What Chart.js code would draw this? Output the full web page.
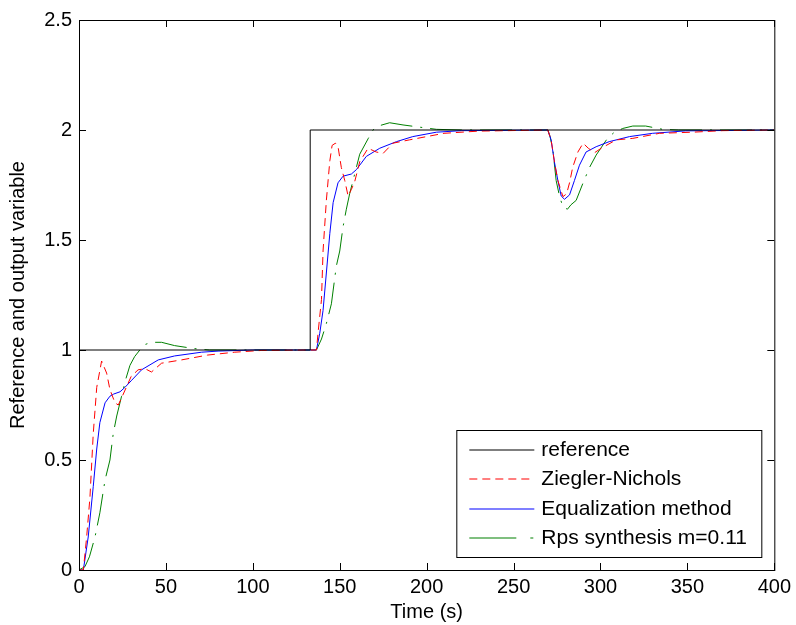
<!DOCTYPE html>
<html>
<head>
<meta charset="utf-8">
<script src="https://cdn.jsdelivr.net/npm/chart.js@4/dist/chart.umd.min.js"></script>
<style>
  body { margin: 0; background: #fff; }
  canvas { display: block; }
</style>
</head>
<body>
<canvas id="resp-canvas" width="796" height="625"></canvas>
<script>
// time (s) and output values
const refTime = [0, 0, 133, 133, 400];
const refVal  = [0, 1, 1, 2, 2];

const znTime = [0, 2.5, 4.4, 6.3, 8.2, 10.2, 13, 15.9, 17.8, 20.7, 22.6, 25.5, 30, 34, 38, 41.7, 47.5, 59, 74, 89.6, 105, 133,
  136.6, 137.5, 139.5, 140.4, 142.3, 144.3, 145.6, 147.5, 149, 150.9, 152.9, 154.8, 156.7, 158.6, 161.5, 166.3, 171, 175, 180.6, 190, 200, 210, 230, 269.7,
  271.6, 273.6, 275.5, 278.4, 280.5, 282.2, 284, 287, 290, 293, 296.6, 300.4, 309, 318.6, 334, 353, 370, 400];
const znVal = [0, 0, 0.15, 0.33, 0.62, 0.83, 0.95, 0.895, 0.82, 0.76, 0.75, 0.80, 0.88, 0.91, 0.915, 0.90, 0.94, 0.955, 0.977, 0.99, 0.998, 1.0,
  1.0, 1.076, 1.23, 1.45, 1.68, 1.86, 1.93, 1.94, 1.925, 1.83, 1.77, 1.70, 1.73, 1.765, 1.856, 1.917, 1.9, 1.894, 1.94, 1.955, 1.97, 1.985, 1.995, 2.0,
  1.955, 1.85, 1.77, 1.697, 1.71, 1.76, 1.83, 1.90, 1.94, 1.917, 1.897, 1.917, 1.955, 1.962, 1.985, 1.99, 1.997, 2.0];

const eqTime = [0, 2.5, 5.3, 8.2, 10.2, 12, 15, 17.8, 20, 23.6, 26.4, 30, 36, 45.6, 55, 70.5, 80, 100, 133,
  136.6, 138.5, 140.4, 142.3, 144.3, 146.2, 149, 151.9, 156.7, 159.6, 165.3, 173, 182.6, 192, 205.6, 220, 269.7,
  271.6, 273.6, 275.5, 277.4, 279.3, 282.2, 285, 287.9, 291.7, 297.5, 305, 316.7, 330, 349, 400];
const eqVal = [0, 0, 0.15, 0.38, 0.55, 0.67, 0.76, 0.79, 0.80, 0.81, 0.83, 0.86, 0.91, 0.955, 0.973, 0.99, 0.995, 1.0, 1.0,
  1.0, 1.076, 1.18, 1.35, 1.53, 1.67, 1.76, 1.79, 1.80, 1.82, 1.88, 1.917, 1.947, 1.97, 1.99, 1.997, 2.0,
  1.955, 1.85, 1.77, 1.70, 1.685, 1.705, 1.77, 1.84, 1.9, 1.924, 1.947, 1.97, 1.985, 1.996, 2.0];

const rpsTime = [0, 3.4, 6, 9.2, 12, 15, 17.8, 19.7, 21.7, 24.5, 27, 29.3, 32, 35, 38, 41.7, 47.5, 55, 65.7, 75, 133,
  136.6, 139.5, 142.3, 145.2, 148, 150, 151.9, 153.8, 155.7, 158.6, 161.5, 166.3, 169.1, 173, 178.7, 186.4, 194, 205.6, 220, 269.7,
  271, 272.6, 274.5, 276.4, 278.4, 281, 283, 286, 290, 293.7, 297.5, 304, 308, 312.8, 318.6, 326, 335.8, 345, 400];
const rpsVal = [0, 0.015, 0.06, 0.15, 0.26, 0.41, 0.5, 0.62, 0.70, 0.79, 0.87, 0.93, 0.97, 1.0, 1.025, 1.035, 1.035, 1.02, 1.007, 1.0, 1.0,
  1.0, 1.05, 1.12, 1.21, 1.38, 1.45, 1.56, 1.64, 1.71, 1.80, 1.89, 1.96, 2.0, 2.02, 2.033, 2.023, 2.015, 2.003, 2.0, 2.0,
  1.97, 1.91, 1.77, 1.70, 1.65, 1.64, 1.66, 1.68, 1.76, 1.83, 1.886, 1.962, 1.99, 2.007, 2.018, 2.018, 2.003, 2.0, 2.0];

const xTicks = [0, 50, 100, 150, 200, 250, 300, 350, 400];
const yTicks = [0, 0.5, 1, 1.5, 2, 2.5];

const seriesNames = ['reference', 'Ziegler-Nichols', 'Equalization method', 'Rps synthesis m=0.11'];
const seriesColors = ['#000000', '#ff0000', '#0000ff', '#008000'];
const seriesDash = [[], [8, 5], [], [32, 8, 2, 8]];
const legendDash = [[], [8, 5], [], [47, 14, 3, 14]];

const FONT = "'Liberation Sans', Arial, sans-serif";

function pts(t, v) {
  let out = [];
  for (let i = 0; i < t.length; i++) out.push({ x: t[i], y: v[i] });
  return out;
}

// matlab style box with inward ticks on all four sides, legend inside
const boxPlugin = {
  id: 'box',
  afterDatasetsDraw(chart) {
    const c = chart.ctx, a = chart.chartArea;
    const xs = chart.scales.x, ys = chart.scales.y;
    const len = 7;
    c.save();
    c.strokeStyle = '#000';
    c.lineWidth = 1;
    c.setLineDash([]);
    c.beginPath();
    for (const t of xTicks) {
      const px = Math.round(xs.getPixelForValue(t)) + 0.5;
      c.moveTo(px, a.bottom); c.lineTo(px, a.bottom - len);
      c.moveTo(px, a.top); c.lineTo(px, a.top + len);
    }
    for (const t of yTicks) {
      const py = Math.round(ys.getPixelForValue(t)) + 0.5;
      c.moveTo(a.left, py); c.lineTo(a.left + len, py);
      c.moveTo(a.right, py); c.lineTo(a.right - len, py);
    }
    c.stroke();
    c.strokeRect(a.left + 0.5, a.top + 0.5, a.right - a.left, a.bottom - a.top);
    c.restore();
  },
  afterDraw(chart) {
    const c = chart.ctx, a = chart.chartArea;
    const w = 305, h = 127;
    const x0 = a.right - 13 - w, y0 = a.bottom - 13 - h;
    c.save();
    c.fillStyle = '#fff';
    c.fillRect(x0, y0, w, h);
    c.strokeStyle = '#000';
    c.lineWidth = 1;
    c.setLineDash([]);
    c.strokeRect(x0 + 0.5, y0 + 0.5, w, h);
    c.font = '21px ' + FONT;
    c.textBaseline = 'middle';
    c.textAlign = 'left';
    for (let i = 0; i < seriesNames.length; i++) {
      const y = Math.round(y0 + 20 + i * 29.4);
      c.strokeStyle = seriesColors[i];
      c.lineWidth = 1.2;
      c.setLineDash(legendDash[i]);
      c.beginPath();
      c.moveTo(x0 + 13, y);
      c.lineTo(x0 + 78, y);
      c.stroke();
      c.fillStyle = '#000';
      c.fillText(seriesNames[i], x0 + 85, y + 0.5);
    }
    c.restore();
  }
};

const ctx = document.getElementById('resp-canvas').getContext('2d');

new Chart(ctx, {
  type: 'line',
  data: {
    datasets: [
      { label: seriesNames[0], data: pts(refTime, refVal), borderColor: seriesColors[0], borderDash: seriesDash[0] },
      { label: seriesNames[1], data: pts(znTime, znVal), borderColor: seriesColors[1], borderDash: seriesDash[1] },
      { label: seriesNames[2], data: pts(eqTime, eqVal), borderColor: seriesColors[2], borderDash: seriesDash[2] },
      { label: seriesNames[3], data: pts(rpsTime, rpsVal), borderColor: seriesColors[3], borderDash: seriesDash[3] }
    ]
  },
  options: {
    responsive: false,
    animation: false,
    devicePixelRatio: 1,
    layout: { padding: { top: 20, right: 21, left: 0, bottom: 0 } },
    elements: {
      point: { radius: 0 },
      line: { borderWidth: 1, tension: 0, fill: false }
    },
    plugins: {
      legend: { display: false },
      tooltip: { enabled: false }
    },
    scales: {
      x: {
        type: 'linear',
        min: 0, max: 400,
        afterBuildTicks: s => { s.ticks = xTicks.map(v => ({ value: v })); },
        afterFit: s => { s.height = 55; },
        grid: { display: false, drawTicks: false },
        border: { display: false },
        ticks: { color: '#000', padding: 5, maxRotation: 0, font: { family: FONT, size: 20 }, callback: v => String(v) },
        title: { display: true, text: 'Time (s)', color: '#000', padding: { top: 0, bottom: 1 }, font: { family: FONT, size: 20 } }
      },
      y: {
        type: 'linear',
        min: 0, max: 2.5,
        afterBuildTicks: s => { s.ticks = yTicks.map(v => ({ value: v })); },
        afterFit: s => { s.width = 79; },
        grid: { display: false, drawTicks: false },
        border: { display: false },
        ticks: { color: '#000', padding: 7, font: { family: FONT, size: 20 }, callback: v => String(v) },
        title: { display: true, text: 'Reference and output variable', color: '#000', padding: { top: 6, bottom: 0 }, font: { family: FONT, size: 20 } }
      }
    }
  },
  plugins: [boxPlugin]
});
</script>
</body>
</html>
